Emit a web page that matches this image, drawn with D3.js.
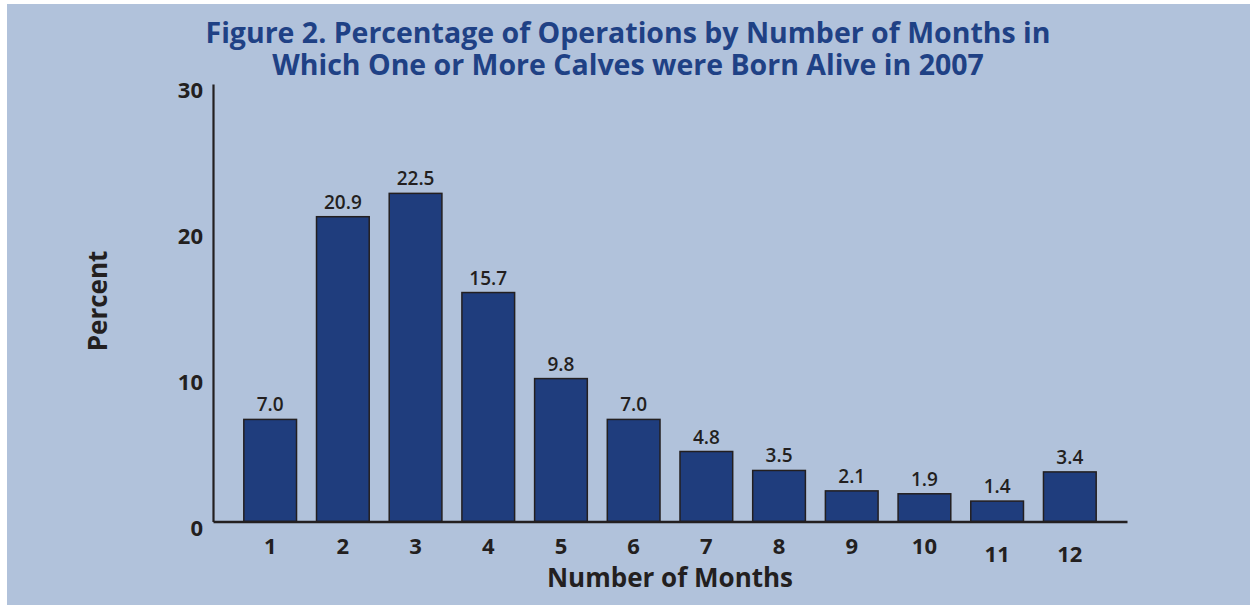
<!DOCTYPE html>
<html><head><meta charset="utf-8">
<script src="https://cdn.jsdelivr.net/npm/d3@7"></script>
<style>
html,body{margin:0;padding:0;background:#fff;}
svg{display:block;}
text{font-family:"Open Sans","DejaVu Sans",sans-serif;}
</style></head>
<body>
<svg id="chart" width="1250" height="606"></svg>
<script>
const months = ["1","2","3","4","5","6","7","8","9","10","11","12"];
const percents = [7.0, 20.9, 22.5, 15.7, 9.8, 7.0, 4.8, 3.5, 2.1, 1.9, 1.4, 3.4];
const yTicks = [0, 10, 20, 30];
const titleLines = ["Figure 2. Percentage of Operations by Number of Months in",
                    "Which One or More Calves were Born Alive in 2007"];
const xTitle = "Number of Months";
const yTitle = "Percent";

const svg = d3.select("#chart");
svg.append("rect").attr("x",7).attr("y",4).attr("width",1243).attr("height",601).attr("fill","#b1c2db");

const x = d3.scaleBand().domain(months).range([213,1127]).paddingInner(0.275).paddingOuter(0.424);
const y = d3.scaleLinear().domain([0,30]).range([521.5,84]);

const dark = "#231f20";

// title
svg.append("g").selectAll("text").data(titleLines).join("text")
  .attr("x",628).attr("y",(d,i)=>43+i*32)
  .attr("text-anchor","middle").attr("font-weight",700).attr("font-size",28.5)
  .attr("fill","#1f4185").text(d=>d);

// bars
svg.append("g").selectAll("rect").data(percents).join("rect")
  .attr("x",(d,i)=>x(months[i])).attr("width",x.bandwidth())
  .attr("y",d=>y(d)).attr("height",d=>y(0)-y(d))
  .attr("fill","#1f3d7d").attr("stroke",dark).attr("stroke-width",1.5);

// value labels
svg.append("g").selectAll("text").data(percents).join("text")
  .attr("x",(d,i)=>x(months[i])+x.bandwidth()/2).attr("y",d=>y(d)-8)
  .attr("text-anchor","middle").attr("font-weight",600).attr("font-size",19)
  .attr("fill",dark).text(d=>d.toFixed(1));

// y axis
const yAxis = svg.append("g").attr("transform","translate(213,0)")
  .call(d3.axisLeft(y).tickValues(yTicks).tickSize(0).tickPadding(10).tickFormat(d3.format("d")));
yAxis.select(".domain").attr("stroke",dark).attr("stroke-width",2.2);
yAxis.selectAll("text").attr("font-family",null).attr("font-size",22).attr("font-weight",700)
  .attr("fill",dark).attr("dy","0.62em").attr("y",0);

// x axis
const xAxis = svg.append("g").attr("transform","translate(0,521.5)")
  .call(d3.axisBottom(x).tickSize(0).tickPadding(0));
xAxis.select(".domain").attr("stroke",dark).attr("stroke-width",2.6);
xAxis.selectAll("text").attr("font-family",null).attr("font-size",22).attr("font-weight",700)
  .attr("fill",dark).attr("dy",null).attr("y",d=> (d==="11"||d==="12") ? 40 : 32);

// axis titles
svg.append("text").attr("x",670).attr("y",587).attr("text-anchor","middle")
  .attr("font-weight",700).attr("font-size",26).attr("fill",dark).text(xTitle);
svg.append("text").attr("transform","translate(107,301) rotate(-90)").attr("text-anchor","middle")
  .attr("font-weight",700).attr("font-size",26).attr("fill",dark).text(yTitle);
</script>
</body></html>
